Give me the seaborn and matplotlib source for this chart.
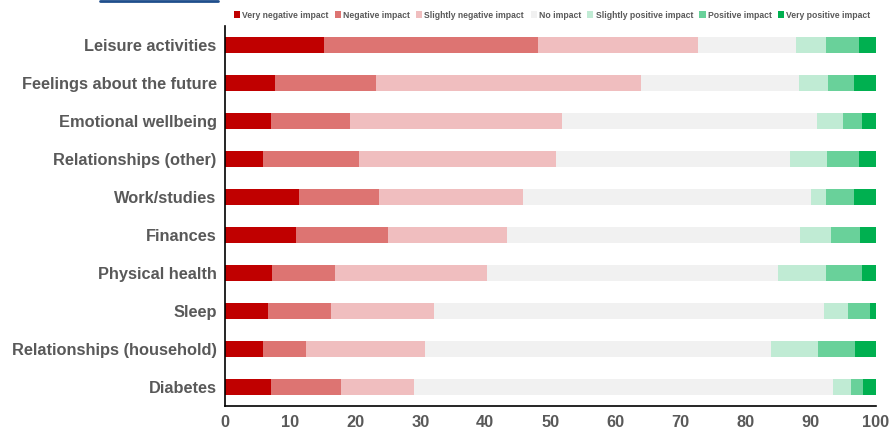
import matplotlib
matplotlib.use("Agg")
import matplotlib.pyplot as plt
from matplotlib.patches import Patch
from matplotlib.lines import Line2D
import numpy as np
import pandas as pd
import seaborn as sns

categories = ["Leisure activities", "Feelings about the future", "Emotional wellbeing",
              "Relationships (other)", "Work/studies", "Finances", "Physical health",
              "Sleep", "Relationships (household)", "Diabetes"]
series_names = ["Very negative impact", "Negative impact", "Slightly negative impact",
                "No impact", "Slightly positive impact", "Positive impact", "Very positive impact"]
very_negative = [15.2, 7.7, 7.1, 5.8, 11.4, 10.9, 7.2, 6.6, 5.9, 7.0]
negative = [32.9, 15.5, 12.1, 14.8, 12.3, 14.1, 9.7, 9.7, 6.5, 10.8]
slightly_negative = [24.6, 40.8, 32.6, 30.2, 22.1, 18.4, 23.4, 15.8, 18.3, 11.3]
no_impact = [15.1, 24.2, 39.2, 36.0, 44.2, 45.0, 44.7, 60.0, 53.2, 64.3]
slightly_positive = [4.5, 4.5, 4.0, 5.7, 2.4, 4.7, 7.4, 3.6, 7.2, 2.8]
positive = [5.2, 3.9, 2.9, 5.0, 4.3, 4.5, 5.5, 3.4, 5.7, 1.9]
very_positive = [2.5, 3.4, 2.1, 2.5, 3.3, 2.4, 2.1, 0.9, 3.2, 1.9]
x_ticks = [0, 10, 20, 30, 40, 50, 60, 70, 80, 90, 100]

colors = ["#C00000", "#DD7472", "#F0BEBF", "#F1F1F1", "#C0EBD4", "#69D19A", "#00B050"]
grey = "#595959"

values = np.array([very_negative, negative, slightly_negative, no_impact,
                   slightly_positive, positive, very_positive])
cum = np.cumsum(values, axis=0)
df = pd.DataFrame({"category": categories})
for i, name in enumerate(series_names):
    df[name] = cum[i]

sns.set_style("white")
plt.rcParams["font.family"] = ["Liberation Sans", "DejaVu Sans"]

fig = plt.figure(figsize=(8.94, 4.29), dpi=100)
ax = fig.add_axes([0.2517, 0.0543, 0.9795 - 0.2517, 0.9394 - 0.0543])

for i in range(len(series_names) - 1, -1, -1):
    sns.barplot(data=df, x=series_names[i], y="category", order=categories,
                orient="h", color=colors[i], width=0.42, ax=ax,
                edgecolor="none", linewidth=0, saturation=1)

ax.set_xlim(0, 100)
ax.set_ylim(9.5, -0.5)
ax.set_xticks(x_ticks)
ax.set_xticklabels([str(t) for t in x_ticks], fontsize=11.8, fontweight="bold", color=grey)
ax.set_yticks(range(len(categories)))
ax.set_yticklabels(categories, fontsize=11.8, fontweight="bold", color=grey)
ax.set_xlabel("")
ax.set_ylabel("")
ax.tick_params(axis="both", length=0)
ax.tick_params(axis="y", pad=6)
ax.tick_params(axis="x", pad=7)
for s in ["top", "right"]:
    ax.spines[s].set_visible(False)
for s in ["left", "bottom"]:
    ax.spines[s].set_color("black")
    ax.spines[s].set_linewidth(1.2)

handles = [Patch(facecolor=c, edgecolor="none", label=n) for c, n in zip(colors, series_names)]
leg = fig.legend(handles=handles, loc="center", bbox_to_anchor=(0.6175, 0.965),
                 ncol=7, frameon=False, fontsize=6.2, handlelength=0.7, handleheight=0.7,
                 handletextpad=0.25, columnspacing=0.75, borderpad=0)
for t in leg.get_texts():
    t.set_color(grey)
    t.set_fontweight("bold")

fig.add_artist(Line2D([100 / 894, 218 / 894], [1 - 1 / 429, 1 - 1 / 429],
                      color="#1F4E8C", linewidth=2, transform=fig.transFigure))

fig.savefig("out.png", dpi=100)
